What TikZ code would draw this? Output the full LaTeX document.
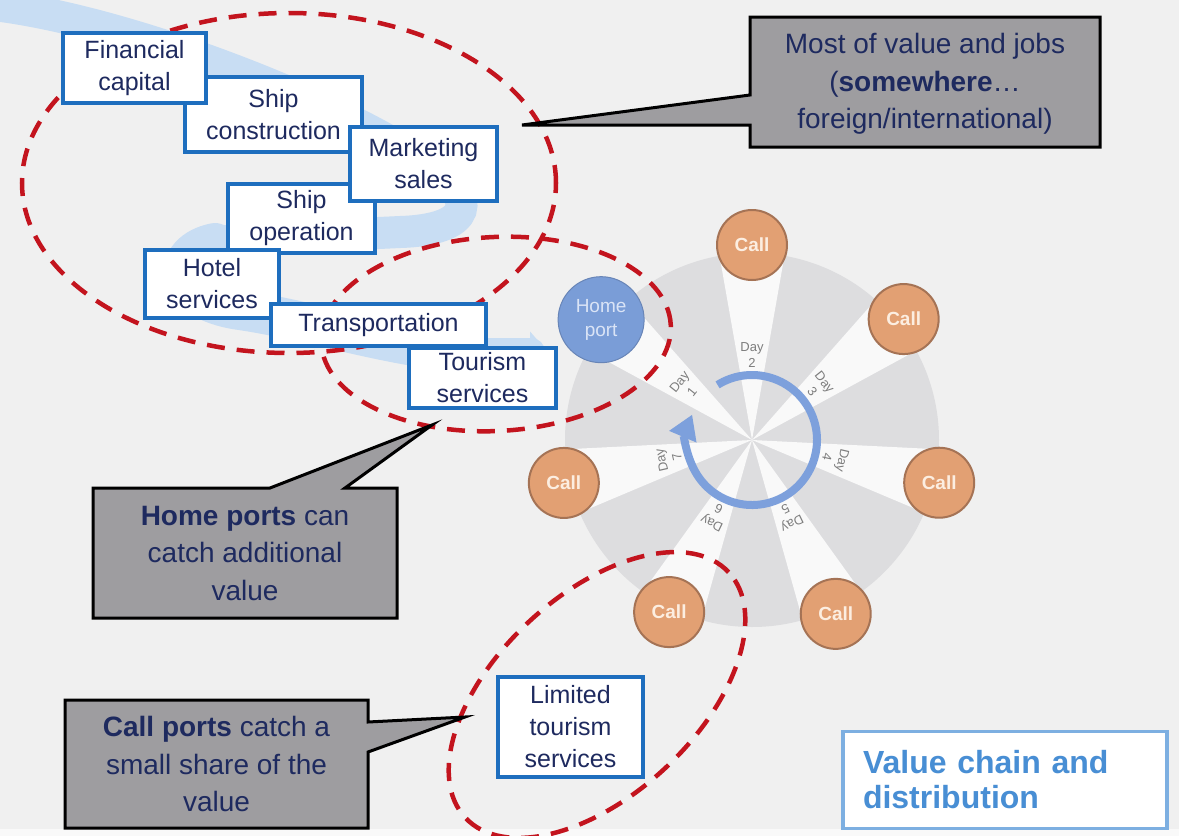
\documentclass[tikz,border=0pt]{standalone}
\usepackage{fontspec}
\setmainfont{Liberation Sans}
\usetikzlibrary{arrows.meta,calc,shapes.geometric}
\definecolor{bg}{RGB}{240,240,240}
\definecolor{boxblue}{RGB}{30,110,190}
\definecolor{navy}{RGB}{30,42,95}
\definecolor{dred}{RGB}{195,20,30}
\definecolor{cgray}{RGB}{158,157,160}
\definecolor{ribboncol}{RGB}{200,221,243}
\definecolor{diskcol}{RGB}{221,221,223}
\definecolor{wedgecol}{RGB}{249,249,249}
\definecolor{ringcol}{RGB}{125,160,220}
\definecolor{homefill}{RGB}{122,157,215}
\definecolor{hometext}{RGB}{218,228,246}
\definecolor{callfill}{RGB}{226,160,115}
\definecolor{callline}{RGB}{165,115,85}
\definecolor{calltext}{RGB}{252,238,225}
\definecolor{daygray}{RGB}{125,125,125}
\definecolor{titleblue}{RGB}{72,142,212}
\definecolor{titleline}{RGB}{125,175,225}
\begin{document}
\begin{tikzpicture}[x=1pt,y=1pt,
 chainbox/.style={draw=boxblue, line width=4pt, fill=white, text=navy, align=center, inner sep=1pt, font=\fontsize{25}{32}\selectfont},
 dashring/.style={draw=dred, line width=4.5pt, dash pattern=on 18pt off 12pt},
 callout/.style={fill=cgray, draw=black, line width=3pt, line join=miter},
 callouttext/.style={text=navy, align=center, font=\fontsize{28}{37.5}\selectfont},
 callport/.style={circle, minimum size=70pt, inner sep=0pt, fill=callfill, draw=callline, line width=2pt, text=calltext, font=\bfseries\fontsize{19}{22}\selectfont},
 homeport/.style={circle, minimum size=86pt, inner sep=0pt, fill=homefill, draw=homefill!85!black, line width=1pt, text=hometext, align=center, font=\fontsize{19}{24}\selectfont},
 daylabel/.style={text=daygray, align=center, inner sep=0pt, font=\fontsize{13}{16}\selectfont},
 ribbon/.style={draw=ribboncol, line cap=round},
 titlebox/.style={draw=titleline, line width=3.5pt, fill=white, text=titleblue, align=left, text width=284pt, inner xsep=20pt, font=\bfseries\fontsize{32}{35}\selectfont}
]
\useasboundingbox (0,0) rectangle (1179,-836);
\fill[bg] (0,0) rectangle (1179,-836);
\fill[white!60!bg] (0,-829) rectangle (1179,-836);

% ribbon
\draw[ribbon, line width=32pt] (-15,-4) .. controls (120,-18) and (330,-100) .. (420,-160)
  .. controls (485,-200) and (470,-230) .. (400,-232)
  .. controls (320,-236) and (250,-236) .. (215,-243);
\draw[ribbon, line width=40pt] (215,-243) .. controls (170,-252) and (170,-300) .. (240,-310)
  .. controls (310,-320) and (400,-350) .. (470,-352);
\draw[ribbon, line width=28pt, -{Triangle[length=18pt,width=40pt]}] (460,-352) -- (548,-352);

% wheel
\coordinate (W) at (752,-440);
\fill[diskcol] (W) circle[radius=187];
\foreach \a in {90,38.571,-12.857,-64.286,-115.714,-167.143,141.429}{
  \fill[wedgecol] (W) -- ($(W)+(\a-10:196)$) arc[start angle=\a-10, end angle=\a+10, radius=196] -- cycle;
}
\draw[ringcol, line width=8pt, -{Triangle[length=24pt,width=28pt]}] ($(W)+(122:65)$) arc[start angle=122, end angle=-203, radius=65];
\foreach \a/\n in {141.429/1,90/2,38.571/3,-12.857/4,-64.286/5,-115.714/6,-167.143/7}{
  \node[daylabel, rotate=\a-90] (day\n) at ($(W)+(\a:85)$) {Day\\\n};
}
\node[homeport] (home) at ($(W)+(141.429:193)$) {Home\\port};
\node[callport] (call2) at ($(W)+(90:195)$) {Call};
\node[callport] (call3) at ($(W)+(38.571:194)$) {Call};
\node[callport] (call4) at ($(W)+(-12.857:192)$) {Call};
\node[callport] (call5) at ($(W)+(-64.286:193)$) {Call};
\node[callport] (call6) at ($(W)+(-115.714:191)$) {Call};
\node[callport] (call7) at ($(W)+(-167.143:193)$) {Call};

% dashed ellipses
\draw[dashring] (289,-183) ellipse[x radius=267, y radius=170];
\draw[dashring, rotate around={3:(496,-334)}] (496,-334) ellipse[x radius=175, y radius=97];
\draw[dashring, rotate around={43:(597,-695)}] (597,-695) ellipse[x radius=180, y radius=100];

% value chain boxes
\node[chainbox, minimum width=177pt, minimum height=75pt] (con) at (273.5,-114.5) {Ship\\construction};
\node[chainbox, minimum width=143pt, minimum height=70pt] (fin) at (134.5,-68) {Financial\\capital};
\node[chainbox, minimum width=147pt, minimum height=69pt] (ope) at (301.5,-218.5) {Ship\\operation};
\node[chainbox, minimum width=147pt, minimum height=74pt] (mkt) at (423.5,-164) {Marketing\\sales};
\node[chainbox, minimum width=134pt, minimum height=68pt] (hot) at (212,-284) {Hotel\\services};
\node[chainbox, minimum width=215pt, minimum height=42pt] (tra) at (378.5,-325) {Transportation};
\node[chainbox, minimum width=147pt, minimum height=60pt] (tou) at (482.5,-378) {Tourism\\services};
\node[chainbox, minimum width=145pt, minimum height=100pt] (lim) at (570.5,-727) {Limited\\tourism\\services};

% callouts
\coordinate (c1a) at (750,-17);
\coordinate (c1b) at (1100,-147);
\coordinate (c1tip) at (522,-125);
\filldraw[callout] (c1a) -- (c1a -| c1b) -- (c1b) -- (c1b -| c1a) -- (750,-125) -- (c1tip) -- (750,-95) -- cycle;
\node[callouttext] (c1) at ($(c1a)!0.5!(c1b)+(0,-2)$) {Most of value and jobs\\(\textbf{somewhere}…\\foreign/international)};

\coordinate (c2a) at (93,-488);
\coordinate (c2b) at (397,-618);
\coordinate (c2tip) at (432,-425);
\filldraw[callout] (c2a) -- (270,-488) -- (c2tip) -- (345,-488) -- (c2a -| c2b) -- (c2b) -- (c2b -| c2a) -- cycle;
\node[callouttext] (c2) at ($(c2a)!0.5!(c2b)$) {\textbf{Home ports} can\\catch additional\\value};

\coordinate (c3a) at (65,-700);
\coordinate (c3b) at (368,-828);
\coordinate (c3tip) at (465,-717);
\filldraw[callout] (c3a) -- (c3a -| c3b) -- (368,-722) -- (c3tip) -- (368,-752) -- (c3b) -- (c3b -| c3a) -- cycle;
\node[callouttext] (c3) at ($(c3a)!0.5!(c3b)$) {\textbf{Call ports} catch a\\small share of the\\value};

% title
\node[titlebox, minimum width=324pt, minimum height=97pt] (title) at (1005,-780) {Value chain and\\distribution};
\end{tikzpicture}
\end{document}
